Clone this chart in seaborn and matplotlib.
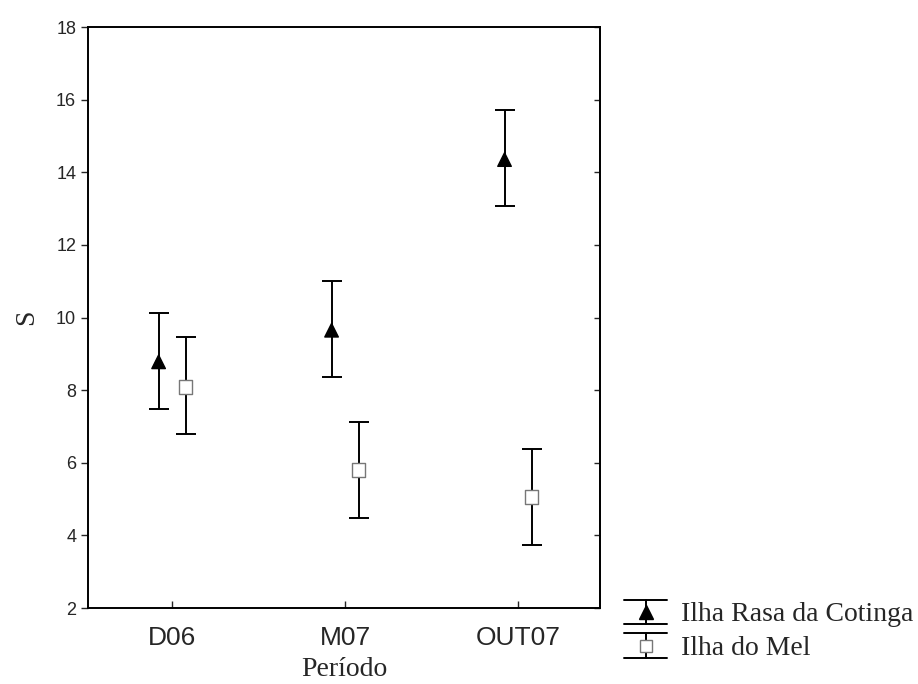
import numpy as np
import pandas as pd
import matplotlib
matplotlib.use("Agg")
import matplotlib.pyplot as plt
from matplotlib.lines import Line2D
from matplotlib.legend_handler import HandlerBase
import seaborn as sns

# dados
periodos = ["D06", "M07", "OUT07"]
ilhas = ["Ilha Rasa da Cotinga", "Ilha do Mel"]
media_rasa = [8.78, 9.65, 14.35]
sup_rasa = [10.13, 11.0, 15.72]
inf_rasa = [7.48, 8.35, 13.07]
media_mel = [8.09, 5.80, 5.06]
sup_mel = [9.47, 7.12, 6.38]
inf_mel = [6.79, 4.48, 3.74]

sns.set_style("ticks")
plt.rcParams["font.family"] = ["Liberation Sans", "DejaVu Sans"]

df = pd.DataFrame({
    "Período": periodos * 2,
    "Ilha": [ilhas[0]] * 3 + [ilhas[1]] * 3,
    "S": media_rasa + media_mel,
    "sup": sup_rasa + sup_mel,
    "inf": inf_rasa + inf_mel,
})
desloc = {ilhas[0]: -0.078, ilhas[1]: 0.078}
df["x"] = df["Período"].map({p: i for i, p in enumerate(periodos)}) + df["Ilha"].map(desloc)

fig = plt.figure(figsize=(9.18, 6.84), dpi=100)
ax = fig.add_axes([0.0959, 0.1111, 0.5577, 0.8494])

for ilha in ilhas:
    d = df[df["Ilha"] == ilha]
    err = [d["S"] - d["inf"], d["sup"] - d["S"]]
    ax.errorbar(d["x"], d["S"], yerr=err, fmt="none", ecolor="black",
                elinewidth=1.4, capsize=7, capthick=1.4, zorder=2)

sns.scatterplot(data=df, x="x", y="S", hue="Ilha", style="Ilha",
                markers={ilhas[0]: "^", ilhas[1]: "s"},
                palette={ilhas[0]: "black", ilhas[1]: "white"},
                s=95, ax=ax, legend=False, zorder=3)
pts = ax.collections[-1]
pts.set_edgecolors(["black" if i == ilhas[0] else "#777777" for i in df["Ilha"]])
pts.set_linewidths(1.0)

ax.set_xlim(-0.486, 2.474)
ax.set_ylim(2, 18)
ax.set_xticks(range(len(periodos)))
ax.set_xticklabels(periodos, fontsize=19)
ax.set_yticks(np.arange(2, 19, 2))
ax.tick_params(axis="y", labelsize=13, direction="out", length=5, width=1)
ax.tick_params(axis="x", direction="in", length=5, width=1, pad=13)
for sp in ax.spines.values():
    sp.set_visible(True)
    sp.set_linewidth(1.4)
    sp.set_color("black")

# ticks do lado direito, para dentro
dir_ax = ax.secondary_yaxis("right")
dir_ax.set_yticks(np.arange(2, 19, 2))
dir_ax.tick_params(direction="in", length=4, width=1, labelright=False)
dir_ax.spines["right"].set_linewidth(1.4)

serif = ["Liberation Serif", "DejaVu Serif"]
ax.set_xlabel("Período", fontsize=20, family=serif, labelpad=5)
ax.set_ylabel("S", fontsize=20, family=serif, labelpad=12)


# legenda com barra de erro
class HandlerBarra(HandlerBase):
    def create_artists(self, legend, orig, xd, yd, w, h, fontsize, trans):
        meio = w / 2 - xd
        cy = -yd + h / 2
        topo = cy + 0.62 * h
        base = cy - 0.62 * h
        arts = [
            Line2D([-xd, -xd + w], [topo, topo], color="black", lw=1.4),
            Line2D([-xd, -xd + w], [base, base], color="black", lw=1.4),
            Line2D([meio, meio], [base, topo], color="black", lw=1.4),
            Line2D([meio], [cy], marker=orig.get_marker(), ms=orig.get_markersize(),
                   mfc=orig.get_markerfacecolor(), mec=orig.get_markeredgecolor(),
                   mew=orig.get_markeredgewidth(), lw=0),
        ]
        for a in arts:
            a.set_transform(trans)
        return arts


leg_handles = [
    Line2D([], [], marker="^", ms=10, mfc="black", mec="black", lw=0),
    Line2D([], [], marker="s", ms=9, mfc="white", mec="#777777", mew=1.0, lw=0),
]
fig.legend(leg_handles, ilhas, loc="lower left", bbox_to_anchor=(0.668, 0.017),
           frameon=False, prop={"family": serif, "size": 20},
           handlelength=1.55, handletextpad=0.5, labelspacing=0.3,
           borderaxespad=0, handler_map={Line2D: HandlerBarra()})

fig.savefig("out.png", dpi=100)
